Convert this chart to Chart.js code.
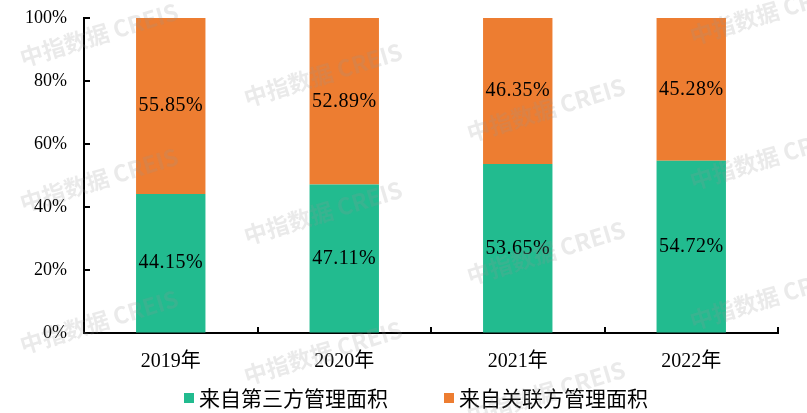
<!DOCTYPE html>
<html>
<head>
<meta charset="utf-8">
<script src="https://cdn.jsdelivr.net/npm/chart.js@4.4.0/dist/chart.umd.min.js"></script>
<style>
  html, body { margin: 0; padding: 0; background: #fff; }
  #wrap { width: 807px; height: 413px; }
</style>
</head>
<body>
<div id="wrap"><canvas id="myChart" width="807" height="413"></canvas></div>
<script>
const years = ['2019年', '2020年', '2021年', '2022年'];
const thirdParty = [44.15, 47.11, 53.65, 54.72];   // 来自第三方管理面积
const related = [55.85, 52.89, 46.35, 45.28];      // 来自关联方管理面积
const yTicks = [0, 20, 40, 60, 80, 100];
const seriesNames = ['来自第三方管理面积', '来自关联方管理面积'];
const colors = ['#22BB8F', '#ED7D31'];

// watermark "中指数据 CREIS" start points
const watermarks = [
  [23, 67], [23, 212], [23, 354],
  [247, 107], [247, 245], [247, 385],
  [470, 0], [470, 142], [470, 285], [470, 425],
  [693, 45], [693, 190], [693, 330]
];

const serif = '"Liberation Serif", "Noto Sans CJK SC", serif';

// small inward ticks on both axes
const axisTicks = {
  id: 'axisTicks',
  afterDraw(chart) {
    const { ctx, chartArea, scales } = chart;
    ctx.save();
    ctx.strokeStyle = '#000';
    ctx.lineWidth = 2;
    scales.y.ticks.forEach((t, i) => {
      const y = Math.round(scales.y.getPixelForTick(i));
      ctx.beginPath();
      ctx.moveTo(chartArea.left, y);
      ctx.lineTo(chartArea.left + 6, y);
      ctx.stroke();
    });
    const step = (chartArea.right - chartArea.left) / years.length;
    for (let i = 0; i <= years.length; i++) {
      const x = Math.round(chartArea.left + step * i);
      ctx.beginPath();
      ctx.moveTo(x, chartArea.bottom);
      ctx.lineTo(x, chartArea.bottom - 6);
      ctx.stroke();
    }
    ctx.restore();
  }
};

// value labels in the middle of each segment
const segLabels = {
  id: 'segLabels',
  afterDatasetsDraw(chart) {
    const ctx = chart.ctx;
    ctx.save();
    ctx.font = '20px ' + serif;
    ctx.fillStyle = '#000';
    ctx.textAlign = 'center';
    ctx.textBaseline = 'middle';
    ctx.letterSpacing = '0.5px';
    chart.data.datasets.forEach((ds, di) => {
      chart.getDatasetMeta(di).data.forEach((bar, i) => {
        const y = (bar.y + bar.base) / 2;
        ctx.fillText(ds.data[i].toFixed(2) + '%', bar.x, y);
      });
    });
    ctx.restore();
  }
};

// legend drawn by hand to keep the wide gap between items
const bottomLegend = {
  id: 'bottomLegend',
  afterDraw(chart) {
    const ctx = chart.ctx;
    ctx.save();
    ctx.font = '21px "Noto Sans CJK SC", sans-serif';
    ctx.textBaseline = 'middle';
    const y = 398;
    const gap = 56;
    const widths = seriesNames.map(n => 15 + ctx.measureText(n).width);
    const total = widths[0] + gap + widths[1];
    let x = 404 - total / 2 + 12;
    seriesNames.forEach((n, i) => {
      ctx.fillStyle = colors[i];
      ctx.fillRect(x, y - 5, 10, 10);
      ctx.fillStyle = '#000';
      ctx.fillText(n, x + 15, y);
      x += widths[i] + gap;
    });
    ctx.restore();
  }
};

const watermark = {
  id: 'watermark',
  afterDraw(chart) {
    const ctx = chart.ctx;
    ctx.save();
    ctx.font = 'bold 23px "Noto Sans CJK SC", sans-serif';
    ctx.fillStyle = 'rgba(150,150,150,0.2)';
    watermarks.forEach(([x, y]) => {
      ctx.save();
      ctx.translate(x, y);
      ctx.rotate(-17 * Math.PI / 180);
      ctx.fillText('中指数据 CREIS', 0, 0);
      ctx.restore();
    });
    ctx.restore();
  }
};

const ctx = document.getElementById('myChart').getContext('2d');
const myChart = new Chart(ctx, {
  type: 'bar',
  data: {
    labels: years,
    datasets: [{
      label: seriesNames[0],
      data: thirdParty,
      backgroundColor: colors[0]
    }, {
      label: seriesNames[1],
      data: related,
      backgroundColor: colors[1]
    }]
  },
  options: {
    responsive: false,
    animation: false,
    devicePixelRatio: 1,
    layout: { padding: { top: 18, right: 29, bottom: 30, left: 0 } },
    datasets: { bar: { categoryPercentage: 1, barPercentage: 0.4 } },
    plugins: { legend: { display: false }, tooltip: { enabled: false } },
    scales: {
      x: {
        stacked: true,
        grid: { drawOnChartArea: false, drawTicks: false, color: 'rgba(0,0,0,0)' },
        border: { display: true, color: '#000', width: 2 },
        ticks: { color: '#000', padding: 17, font: { size: 20, family: serif } },
        afterFit(scale) { scale.height = 50; }
      },
      y: {
        stacked: true,
        min: 0,
        max: 100,
        afterBuildTicks(scale) { scale.ticks = yTicks.map(v => ({ value: v })); },
        grid: { drawOnChartArea: false, drawTicks: false, color: 'rgba(0,0,0,0)' },
        border: { display: true, color: '#000', width: 2 },
        ticks: {
          color: '#000',
          padding: 17,
          font: { size: 18, family: serif },
          callback: v => v + '%'
        },
        afterFit(scale) {
          scale.width = 84;
          scale.paddingTop = 0;
          scale.paddingBottom = 0;
        }
      }
    }
  },
  plugins: [axisTicks, segLabels, bottomLegend, watermark]
});
</script>
</body>
</html>
